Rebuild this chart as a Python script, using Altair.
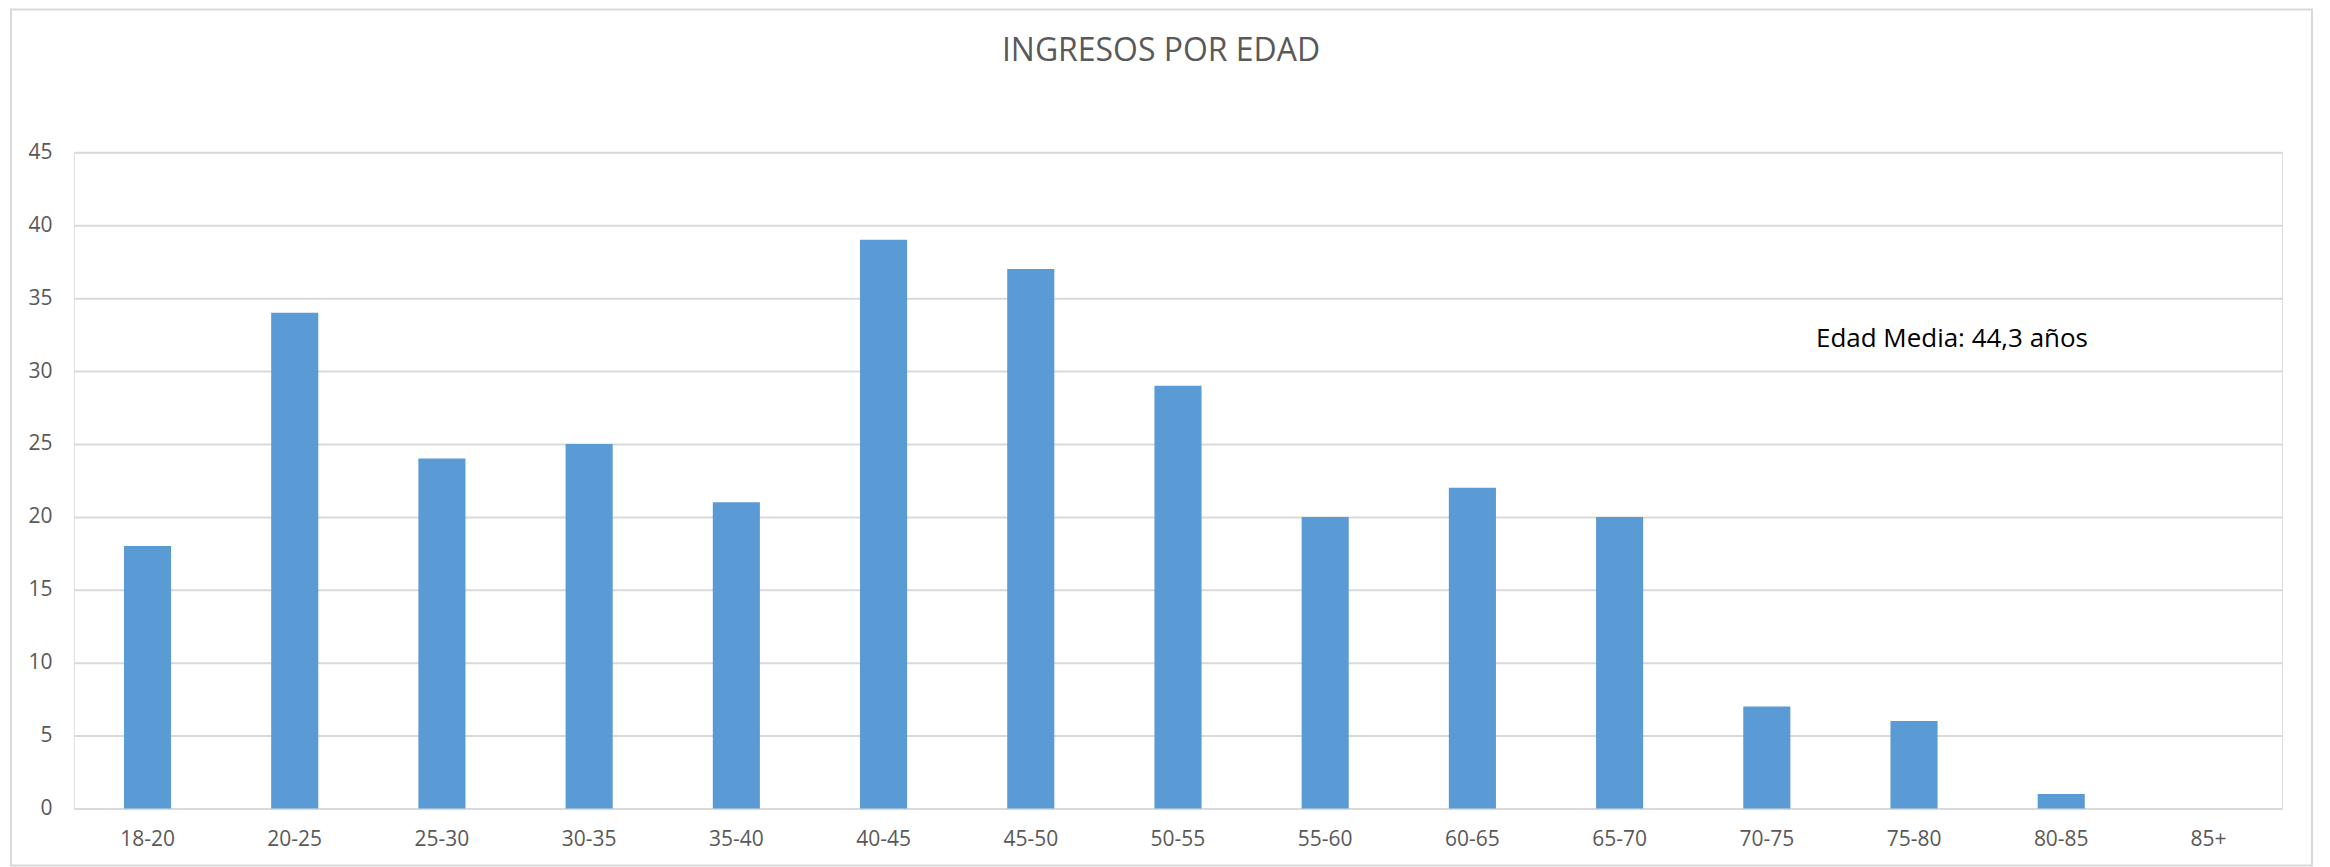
import altair as alt
import pandas as pd

categories = ["18-20", "20-25", "25-30", "30-35", "35-40", "40-45", "45-50",
              "50-55", "55-60", "60-65", "65-70", "70-75", "75-80", "80-85", "85+"]
ingresos = [18, 34, 24, 25, 21, 39, 37, 29, 20, 22, 20, 7, 6, 1, 0]
y_ticks = [0, 5, 10, 15, 20, 25, 30, 35, 40, 45]

annot_text = ["Edad Media: 44,3 años"]
annot_cat = ["75-80"]
annot_y = [32.2]

df = pd.DataFrame({"edad": categories, "ingresos": ingresos})
df_annot = pd.DataFrame({"edad": annot_cat, "y": annot_y, "t": annot_text})

FONT = "Open Sans"

x_enc = alt.X("edad:N", sort=categories,
              scale=alt.Scale(paddingInner=0.68, paddingOuter=0.34),
              axis=alt.Axis(title=None, labelAngle=0, ticks=False, domain=False,
                            labelFontSize=21, labelColor="#595959", labelFont=FONT,
                            labelPadding=20, grid=False))
y_scale = alt.Scale(domain=[0, 45], nice=False)

bars = alt.Chart(df).mark_bar(color="#5B9BD5").encode(
    x=x_enc,
    y=alt.Y("ingresos:Q", scale=y_scale,
            axis=alt.Axis(title=None, values=y_ticks, ticks=False, domain=False,
                          labelFontSize=21, labelColor="#595959", labelFont=FONT,
                          labelPadding=22, gridColor="#D9D9D9", gridWidth=2)),
)

annot = alt.Chart(df_annot).mark_text(
    font=FONT, fontSize=26, color="#000000", align="center", baseline="middle", dx=38
).encode(
    x=alt.X("edad:N", sort=categories),
    y=alt.Y("y:Q", scale=y_scale),
    text="t:N",
)

border = alt.Chart(df_annot).mark_rect(
    fillOpacity=0, stroke="#D9D9D9", strokeWidth=2
).encode(
    x=alt.value(-63), x2=alt.value(2241), y=alt.value(-143), y2=alt.value(714)
)

chart = alt.layer(border, bars, annot).properties(
    width=2211, height=657,
    title=alt.Title("INGRESOS POR EDAD", fontSize=32, font=FONT, color="#595959",
                    fontWeight="normal", anchor="middle", frame="group", offset=-85,
                    dx=-17, baseline="alphabetic"),
    autosize=alt.AutoSizeParams(type="none"),
    padding={"left": 66, "top": 144, "right": 40, "bottom": 58},
).configure_view(stroke=None).configure(background="white")

chart.save("out.html", embed_options={"renderer": "svg", "actions": False})
